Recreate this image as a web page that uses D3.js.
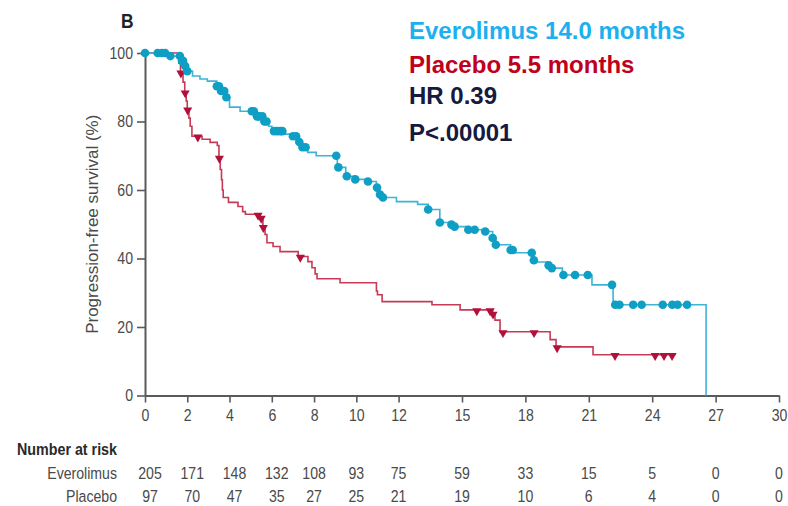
<!DOCTYPE html>
<html>
<head>
<meta charset="utf-8">
<script src="https://cdn.jsdelivr.net/npm/d3@7"></script>
<style>
  html, body { margin: 0; padding: 0; background: #fff; }
  svg { display: block; }
  .narrow { font-family: "Liberation Sans", Arial, sans-serif; }
  .legend { font-family: "Liberation Sans", Arial, sans-serif; font-weight: bold; font-size: 24px; }
</style>
</head>
<body>
<svg id="chart" width="788" height="506"></svg>
<script>
// Kaplan–Meier steps: [month, progression-free survival %]
const everolimusSteps = [
  [0, 100], [1.15, 99.1], [1.75, 97.7], [1.85, 96.2], [1.95, 94.7], [2.25, 93.3],
  [2.6, 92.4], [2.95, 91.8], [3.4, 90.3], [3.6, 88.9], [3.85, 87.1], [4.0, 84.2],
  [4.5, 83.0], [5.3, 81.5], [5.6, 80.0], [5.85, 78.6], [6.0, 77.2], [6.6, 76.3],
  [6.95, 75.7], [7.2, 74.0], [7.45, 72.5], [7.7, 71.0], [8.1, 70.0], [9.1, 66.6],
  [9.5, 64.0], [9.9, 63.1], [10.5, 62.5], [10.95, 60.7], [11.1, 58.7], [11.25, 57.8],
  [11.9, 56.6], [12.9, 55.8], [13.4, 54.3], [13.95, 50.5], [14.5, 49.9], [14.65, 49.3],
  [15.3, 48.4], [16.1, 47.9], [16.45, 46.0], [16.6, 44.0], [17.3, 42.5], [17.5, 41.7],
  [18.35, 39.5], [18.45, 39.0], [19.1, 38.0], [19.25, 37.2], [19.75, 35.2], [21.15, 32.3],
  [22.15, 26.5], [26.55, 0]
];
const placeboSteps = [
  [0, 100], [1.6, 97.0], [1.68, 94.4], [1.8, 91.5], [1.88, 88.6], [1.95, 86.0],
  [2.0, 83.6], [2.08, 81.0], [2.14, 78.6], [2.22, 75.7], [2.7, 74.8], [3.08, 73.9],
  [3.42, 73.0], [3.5, 69.5], [3.56, 66.0], [3.62, 63.0], [3.66, 60.0], [3.7, 57.8],
  [3.95, 56.4], [4.4, 55.2], [4.62, 53.7], [4.75, 52.9], [5.45, 52.0], [5.58, 49.3],
  [5.68, 47.0], [5.77, 44.6], [6.06, 43.5], [6.39, 42.0], [7.25, 40.6], [7.71, 39.1],
  [7.9, 37.3], [8.05, 35.5], [8.14, 34.1], [9.23, 32.9], [10.95, 30.5], [11.0, 29.4],
  [11.22, 27.4], [13.58, 26.5], [14.91, 25.0], [16.45, 24.0], [16.56, 22.0], [16.8, 18.6],
  [19.17, 16.3], [19.45, 14.2], [21.2, 11.9], [25.1, 11.9]
];

// Censoring times (months)
const everolimusCensored = [
  0, 0.6, 0.8, 0.95, 1.2, 1.65, 1.75, 1.8, 1.9, 2.0, 3.4, 3.5, 3.6, 3.75, 3.85,
  5.05, 5.15, 5.3, 5.4, 5.55, 5.65, 5.75, 6.1, 6.25, 6.4, 6.5,
  7.0, 7.15, 7.3, 7.45, 7.6, 9.05, 9.15, 9.55, 9.95, 10.55, 10.98, 11.12, 11.26,
  13.4, 13.95, 14.5, 14.65, 15.3, 15.6, 16.1, 16.45, 16.6, 17.3, 17.4,
  18.3, 18.4, 19.1, 19.25, 19.8, 20.35, 20.95, 22.1, 22.25, 22.45,
  23.1, 23.5, 24.5, 24.95, 25.2, 25.65
];
const placeboCensored = [
  1.7, 1.9, 2.02, 2.5, 3.52, 5.35, 5.5, 5.6, 7.35, 15.7, 16.33, 16.47,
  16.94, 18.41, 19.5, 22.24, 24.14, 24.56, 24.94
];

// Axis ticks
const xTicks = [0, 2, 4, 6, 8, 10, 12, 15, 18, 21, 24, 27, 30];
const yTicks = [0, 20, 40, 60, 80, 100];

// Number at risk, one value per x tick
const riskEverolimus = [205, 171, 148, 132, 108, 93, 75, 59, 33, 15, 5, 0, 0];
const riskPlacebo = [97, 70, 47, 35, 27, 25, 21, 19, 10, 6, 4, 0, 0];

// Legend / summary lines
const legendLines = [
  { text: "Everolimus 14.0 months", color: "#1db0ee" },
  { text: "Placebo 5.5 months", color: "#c0001c" },
  { text: "HR 0.39", color: "#161a40" },
  { text: "P<.00001", color: "#161a40" }
];

const colors = {
  everolimusLine: "#3fb3d6", everolimusMark: "#0f9ec4",
  placeboLine: "#c63a56", placeboMark: "#b0103a",
  axis: "#5a5a5a", label: "#4a4a4a"
};

// Condensed look for the axis and table type: horizontally squeezed sans
const SQUEEZE = 0.83;

const svg = d3.select("#chart");
const x = d3.scaleLinear().domain([0, 30]).range([145, 779]);
const y = d3.scaleLinear().domain([0, 100]).range([395.5, 53]);

function survivalAt(steps, t) {
  let s = steps[0][1];
  for (const [ti, si] of steps) { if (ti <= t) s = si; else break; }
  return s;
}

// Places condensed text at (px, py) in page coordinates
function condensed(parent, px, py, txt, opts = {}) {
  const t = parent.append("text")
    .attr("class", "narrow")
    .attr("transform", `scale(${SQUEEZE},1)`)
    .attr("x", px / SQUEEZE)
    .attr("y", py)
    .attr("text-anchor", opts.anchor || "start")
    .attr("fill", opts.fill || colors.label)
    .style("font-size", (opts.size || 17) + "px")
    .style("font-weight", opts.weight || "normal")
    .text(txt);
  if (opts.width) {
    t.attr("textLength", opts.width / SQUEEZE).attr("lengthAdjust", "spacingAndGlyphs");
  }
  return t;
}

// Axes
const yAxis = svg.append("g")
  .attr("transform", `translate(${x(0)},0)`)
  .call(d3.axisLeft(y).tickValues(yTicks).tickSize(8).tickSizeOuter(0).tickPadding(3));
const xAxis = svg.append("g")
  .attr("transform", `translate(0,${y(0)})`)
  .call(d3.axisBottom(x).tickValues(xTicks).tickSize(7).tickSizeOuter(0).tickPadding(6));

[yAxis, xAxis].forEach(g => {
  g.select(".domain").attr("stroke", colors.axis).attr("stroke-width", 2);
  g.selectAll(".tick line").attr("stroke", colors.axis).attr("stroke-width", 1.6);
  g.selectAll(".tick text")
    .attr("class", "narrow")
    .attr("fill", colors.label)
    .attr("transform", `scale(${SQUEEZE},1)`)
    .style("font-size", "17px");
});
yAxis.selectAll(".tick text").attr("x", -12 / SQUEEZE);

// Y axis title
svg.append("text")
  .attr("transform", `translate(98,${(y(0) + y(100)) / 2}) rotate(-90)`)
  .attr("text-anchor", "middle")
  .attr("fill", colors.label)
  .style("font-family", "\"Liberation Sans\", Arial, sans-serif")
  .style("font-size", "17px")
  .text("Progression-free survival (%)");

// Panel letter
condensed(svg, 121, 28, "B", { size: 21, weight: "bold", fill: "#222" });

// Survival curves
const line = d3.line()
  .x(d => x(d[0])).y(d => y(d[1]))
  .curve(d3.curveStepAfter);

svg.append("path")
  .datum(placeboSteps)
  .attr("d", line)
  .attr("fill", "none")
  .attr("stroke", colors.placeboLine)
  .attr("stroke-width", 1.6);

svg.append("path")
  .datum(everolimusSteps)
  .attr("d", line)
  .attr("fill", "none")
  .attr("stroke", colors.everolimusLine)
  .attr("stroke-width", 1.6);

// Censor marks
svg.append("g").selectAll("path")
  .data(placeboCensored)
  .join("path")
  .attr("d", d3.symbol(d3.symbolTriangle, 36))
  .attr("transform", t => `translate(${x(t)},${y(survivalAt(placeboSteps, t)) + 1}) rotate(180)`)
  .attr("fill", colors.placeboMark);

svg.append("g").selectAll("circle")
  .data(everolimusCensored)
  .join("circle")
  .attr("cx", t => x(t))
  .attr("cy", t => y(survivalAt(everolimusSteps, t)))
  .attr("r", 4.3)
  .attr("fill", colors.everolimusMark);

// Summary text
const legendBaselines = [39, 73, 104, 141];
svg.append("g").selectAll("text")
  .data(legendLines)
  .join("text")
  .attr("class", "legend")
  .attr("x", 409)
  .attr("y", (d, i) => legendBaselines[i])
  .attr("fill", d => d.color)
  .text(d => d.text);

// Number at risk table
condensed(svg, 17, 455, "Number at risk", { weight: "bold", fill: "#2a2a2a", width: 100 });

const rows = [
  { name: "Everolimus", values: riskEverolimus, baseline: 479 },
  { name: "Placebo", values: riskPlacebo, baseline: 502 }
];
rows.forEach(row => {
  condensed(svg, 117, row.baseline, row.name, { anchor: "end" });
  const g = svg.append("g");
  row.values.forEach((v, i) => {
    const px = x(xTicks[i]) + (xTicks[i] <= 6 ? 5 : 0);
    condensed(g, px, row.baseline, v, { anchor: "middle" });
  });
});
</script>
</body>
</html>
